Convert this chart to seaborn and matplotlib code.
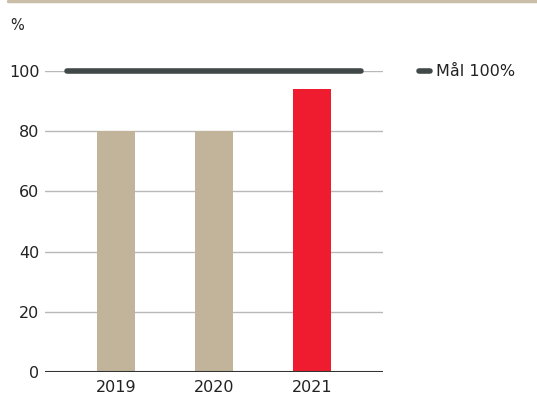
import matplotlib
matplotlib.use("Agg")
import matplotlib.pyplot as plt
import seaborn as sns
import pandas as pd
from matplotlib.lines import Line2D

years = ["2019", "2020", "2021"]
values = [80, 80, 94]
bar_colors = ["#c2b49a", "#c2b49a", "#ee1c2e"]
goal_value = 100
goal_label = "Mål 100%"
y_ticks = [0, 20, 40, 60, 80, 100]

sns.set_theme(style="white")
plt.rcParams["font.family"] = ["DejaVu Sans"]

df = pd.DataFrame({"year": years, "value": values})

fig = plt.figure(figsize=(5.37, 3.99), dpi=100)
ax = fig.add_axes([45 / 537, 1 - 372 / 399, 338 / 537, 301 / 399])

sns.barplot(data=df, x="year", y="value", hue="year", palette=bar_colors,
            width=0.38, saturation=1, linewidth=0, edgecolor="none",
            legend=False, ax=ax, zorder=3)

ax.set_xlim(-0.724, 2.724)
ax.set_ylim(0, 100)
ax.set_yticks(y_ticks)
ax.yaxis.grid(True, color="#b8b8b8", linewidth=1.0, zorder=0)
ax.set_axisbelow(True)
ax.axhline(0, color="#333333", linewidth=1.5, zorder=4)
for s in ax.spines.values():
    s.set_visible(False)
ax.tick_params(axis="both", length=0, labelsize=11.5, colors="#222222", pad=6)
ax.tick_params(axis="y", pad=4)
ax.set_xlabel("")
ax.set_ylabel("")

# goal line
ax.plot([-0.5, 2.5], [goal_value, goal_value], color="#404848", linewidth=4,
        solid_capstyle="round", clip_on=False, zorder=5)

# legend entry for the goal
fig.add_artist(Line2D([419 / 537, 430 / 537], [1 - 71 / 399] * 2,
                      color="#404848", linewidth=4, solid_capstyle="round"))
fig.text(436 / 537, 1 - 71 / 399, goal_label, fontsize=11.5, color="#222222",
         va="center", ha="left")

fig.text(10 / 537, 1 - 25 / 399, "%", fontsize=10.5, color="#222222",
         va="center", ha="left")

# top rule
fig.add_artist(Line2D([8 / 537, 1.0], [1 - 1 / 399] * 2,
                      color="#c9bfa8", linewidth=2.5))

fig.savefig("out.png", dpi=100)
